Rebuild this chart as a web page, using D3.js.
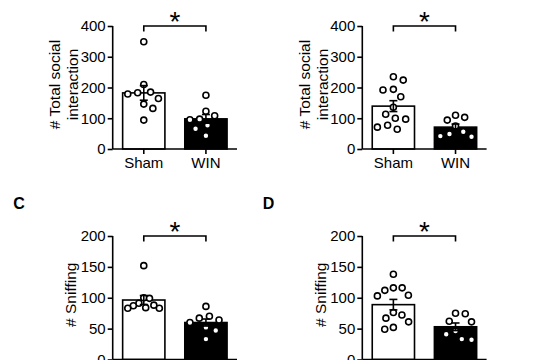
<!DOCTYPE html>
<html>
<head>
<meta charset="utf-8">
<script src="https://cdn.jsdelivr.net/npm/d3@7"></script>
<style>
  html, body { margin: 0; padding: 0; background: #fff; }
  svg { display: block; overflow: hidden; }
  text { font-family: "Liberation Sans", Arial, Helvetica, sans-serif; fill: #000; }
</style>
</head>
<body>
<svg id="chart" width="540" height="360"></svg>
<script>
// ---- data ----
const groups = ["Sham", "WIN"];
const panelLetters = ["A", "B", "C", "D"];
const yTitles = [["# Total social", "interaction"], ["# Total social", "interaction"], ["# Sniffing"], ["# Sniffing"]];
const yTicksSocial = [0, 100, 200, 300, 400];
const yTicksSniff = [0, 50, 100, 150, 200];
const shamA = [349, 210, 185, 183, 179, 164, 146, 132, 94];
const winA  = [175, 123, 108, 97, 95, 77, 66, 43];
const shamB = [235, 224, 194, 192, 170, 136, 113, 100, 97, 77, 71, 64];
const winB  = [110, 103, 94, 75, 56, 49, 42, 40];
const shamC = [152, 100, 99, 91, 88, 87, 84, 83, 83];
const winC  = [86, 70, 67, 64, 60, 52, 47, 33];
const shamD = [138, 116, 116, 112, 104, 103, 76, 72, 67, 61, 52, 49];
const winD  = [75, 74, 62, 61, 46, 41, 33, 32];
const significance = ["*", "*", "*", "*"];

// ---- layout ----
const panels = [
  { x: 112.7, top: 26,  bottom: 149,   sham: shamA, win: winA, ticks: yTicksSocial, showLetter: false, xLabels: true },
  { x: 362.3, top: 26,  bottom: 149,   sham: shamB, win: winB, ticks: yTicksSocial, showLetter: false, xLabels: true },
  { x: 112.7, top: 236, bottom: 359.5, sham: shamC, win: winC, ticks: yTicksSniff,  showLetter: true,  xLabels: false },
  { x: 362.3, top: 236, bottom: 359.5, sham: shamD, win: winD, ticks: yTicksSniff,  showLetter: true,  xLabels: false }
];
const plotW = 124.3;
const R = 3.0, SW = 1.6, FS = 15;
const maxSpread = 16;

const svg = d3.select("#chart");

function sem(a) { return d3.deviation(a) / Math.sqrt(a.length); }

// greedy beeswarm: returns pixel x offsets, compressed to fit within the bar
function swarm(ys, d) {
  const idx = ys.map((y, i) => i).sort((a, b) => ys[a] - ys[b]);
  const placed = [];
  const out = new Array(ys.length).fill(0);
  let side = 1;
  idx.forEach(i => {
    const y = ys[i];
    const intervals = [];
    placed.forEach(p => {
      const dy = Math.abs(p.y - y);
      if (dy < d) {
        const w = Math.sqrt(d * d - dy * dy);
        intervals.push([p.x - w, p.x + w]);
      }
    });
    const cands = [0];
    intervals.forEach(iv => { cands.push(iv[0], iv[1]); });
    const ok = c => intervals.every(iv => c <= iv[0] + 1e-6 || c >= iv[1] - 1e-6);
    let best = null;
    cands.filter(ok).forEach(c => {
      if (best === null || Math.abs(c) < Math.abs(best) - 1e-6 ||
          (Math.abs(Math.abs(c) - Math.abs(best)) < 1e-6 && Math.sign(c) === side)) best = c;
    });
    if (best !== 0) side = -side;
    out[i] = best;
    placed.push({ x: best, y: y });
  });
  const mx = d3.max(out, v => Math.abs(v));
  const k = mx > maxSpread ? maxSpread / mx : 1;
  return out.map(v => v * k);
}

panels.forEach((p, pi) => {
  const g = svg.append("g").attr("transform", `translate(${p.x},0)`);
  const ymax = p.ticks[p.ticks.length - 1];
  const y = d3.scaleLinear().domain([0, ymax]).range([p.bottom, p.top]);
  const x = d3.scaleBand().domain(groups).range([0, plotW]).paddingInner(0.32).paddingOuter(0.16);
  const series = [p.sham, p.win];

  // bars
  groups.forEach((grp, gi) => {
    const m = d3.mean(series[gi]);
    g.append("rect")
      .attr("x", x(grp)).attr("width", x.bandwidth())
      .attr("y", y(m)).attr("height", y(0) - y(m))
      .attr("fill", gi === 0 ? "#fff" : "#000")
      .attr("stroke", "#000").attr("stroke-width", 1.6);
  });

  // dots
  groups.forEach((grp, gi) => {
    const vals = series[gi];
    const cx = x(grp) + x.bandwidth() / 2;
    const offs = swarm(vals.map(v => y(v)), 10.5);
    g.selectAll(null).data(vals).enter().append("circle")
      .attr("cx", (v, i) => cx + offs[i])
      .attr("cy", v => y(v))
      .attr("r", R)
      .attr("fill", "#fff").attr("stroke", "#000").attr("stroke-width", SW);
  });

  // error bars (mean ± SEM)
  groups.forEach((grp, gi) => {
    const vals = series[gi];
    const m = d3.mean(vals), s = sem(vals);
    const cx = x(grp) + x.bandwidth() / 2;
    const eg = g.append("g").attr("stroke", "#000").attr("stroke-width", 1.6);
    eg.append("line").attr("x1", cx).attr("x2", cx).attr("y1", y(m - s)).attr("y2", y(m + s));
    [m - s, m + s].forEach(v => {
      eg.append("line").attr("x1", cx - 4).attr("x2", cx + 4).attr("y1", y(v)).attr("y2", y(v));
    });
  });

  // axes
  const yAxis = d3.axisLeft(y).tickValues(p.ticks).tickSize(5).tickPadding(2).tickFormat(d3.format("d"));
  const ya = g.append("g").call(yAxis);
  const xAxis = d3.axisBottom(x).tickSize(5).tickPadding(3).tickSizeOuter(0);
  const xa = g.append("g").attr("transform", `translate(0,${p.bottom})`).call(xAxis);
  if (!p.xLabels) xa.selectAll(".tick text").remove();
  [ya, xa].forEach(a => {
    a.select(".domain").attr("stroke", "#000").attr("stroke-width", 1.6);
    a.selectAll(".tick line").attr("stroke", "#000").attr("stroke-width", 1.6);
    a.selectAll("text").attr("font-size", FS).attr("font-family", "Liberation Sans, Arial, sans-serif").attr("fill", "#000");
  });
  xa.select(".domain").attr("d", `M0,0H${plotW}`);
  ya.select(".domain").attr("d", `M0,${p.bottom}V${p.top}`);

  // y title
  const lines = yTitles[pi];
  const cy = (p.top + p.bottom) / 2 - 3;
  const t = g.append("text")
    .attr("transform", `translate(${lines.length === 2 ? -58 : -42},${cy}) rotate(-90)`)
    .attr("text-anchor", "middle").attr("font-size", 15.5);
  lines.forEach((ln, li) => {
    t.append("tspan").attr("x", 0).attr("dy", li === 0 ? "0.35em" : "1.18em").text(ln);
  });

  // significance bracket
  const bx1 = x("Sham") + x.bandwidth() / 2, bx2 = x("WIN") + x.bandwidth() / 2;
  const by = y(ymax);
  g.append("path").attr("d", `M${bx1},${by + 5.5}V${by}H${bx2}V${by + 5.5}`)
    .attr("fill", "none").attr("stroke", "#000").attr("stroke-width", 1.6);
  g.append("text").attr("x", (bx1 + bx2) / 2).attr("y", by + 5)
    .attr("text-anchor", "middle").attr("font-size", 28).text(significance[pi]);

  // panel letter
  if (p.showLetter) {
    svg.append("text").attr("x", p.x - 99.5).attr("y", p.top - 27)
      .attr("font-size", 16).attr("font-weight", "bold").text(panelLetters[pi]);
  }
});
</script>
</body>
</html>
